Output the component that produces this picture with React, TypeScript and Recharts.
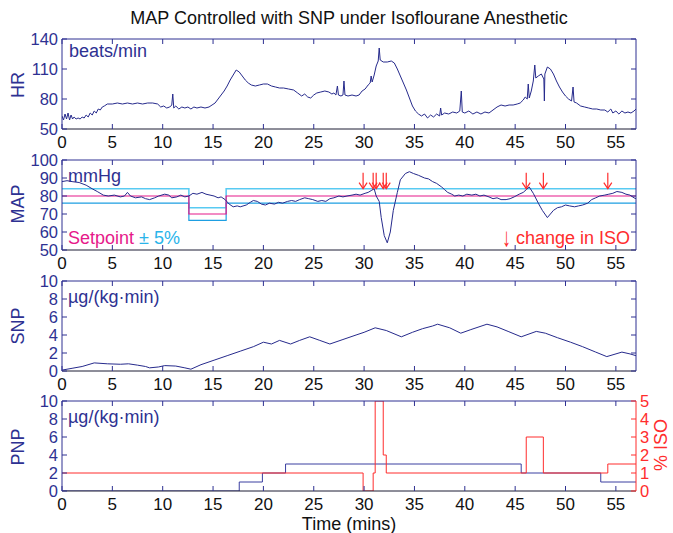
import React from 'react';
import { ComposedChart, Line, Scatter, XAxis, YAxis } from 'recharts';

// ---- data (time in minutes) ----
const timeTicks = [0, 5, 10, 15, 20, 25, 30, 35, 40, 45, 50, 55];
const hrTicks = [50, 80, 110, 140];
const mapTicks = [50, 60, 70, 80, 90, 100];
const doseTicks = [0, 2, 4, 6, 8, 10];
const isoTicks = [0, 1, 2, 3, 4, 5];

const hrTime = [
  0, 0.15, 0.3, 0.45, 0.6, 0.75, 0.9, 1.05, 1.2, 1.4,
  1.6, 1.8, 2.0, 2.2, 2.4, 2.6, 2.8, 3.0, 3.2, 3.4,
  3.6, 3.8, 4.0, 4.2, 4.5, 5.0, 5.5, 6.0, 6.5, 7.0,
  7.5, 8.0, 8.5, 9.0, 9.5, 9.8, 10.1, 10.4, 10.7, 10.9,
  11.0, 11.1, 11.3, 11.6, 11.9, 12.2, 12.5, 12.8, 13.1, 13.4,
  13.8, 14.2, 14.6, 14.9, 15.2, 15.5, 15.8, 16.1, 16.4, 16.7,
  17.0, 17.3, 17.6, 17.9, 18.2, 18.5, 18.8, 19.2, 19.6, 20.0,
  20.4, 20.8, 21.2, 21.6, 22.0, 22.5, 23.0, 23.4, 23.8, 24.1,
  24.4, 24.7, 25.0, 25.3, 25.7, 26.1, 26.5, 26.8, 27.0, 27.2,
  27.35, 27.45, 27.7, 27.9, 28.0, 28.1, 28.4, 28.8, 29.2, 29.5,
  29.8, 30.1, 30.4, 30.6, 30.7, 30.8, 31.0, 31.2, 31.4, 31.5,
  31.6, 31.9, 32.3, 32.7, 33.0, 33.3, 33.6, 33.9, 34.2, 34.5,
  34.8, 35.1, 35.4, 35.7, 36.0, 36.3, 36.6, 36.9, 37.2, 37.5,
  37.6, 37.7, 38.0, 38.4, 38.8, 39.2, 39.5, 39.65, 39.75, 40.0,
  40.4, 40.8, 41.2, 41.6, 42.0, 42.4, 42.8, 43.2, 43.6, 44.0,
  44.4, 44.8, 45.2, 45.5, 45.8, 46.0, 46.2, 46.3, 46.4, 46.6,
  46.8, 46.95, 47.05, 47.3, 47.6, 47.85, 47.9, 47.95, 48.2, 48.5,
  48.8, 49.1, 49.4, 49.7, 50.0, 50.3, 50.6, 50.75, 50.85, 51.1,
  51.5, 51.9, 52.3, 52.7, 53.1, 53.5, 53.9, 54.2, 54.5, 54.7,
  55.0, 55.3, 55.6, 55.9, 56.2, 56.5, 56.8, 57.0,
];
const hrBpm = [
  63, 59, 65, 60, 66, 59, 64, 60, 62, 60,
  61, 60, 62, 61, 64, 62, 66, 64, 68, 66,
  70, 69, 72, 73, 75, 75, 76, 75, 76, 75,
  76, 75, 76, 76, 75, 72, 73, 71, 72, 74,
  85, 71, 73, 70, 72, 71, 72, 70, 72, 71,
  72, 71, 72, 74, 76, 80, 84, 88, 93, 99,
  104, 109, 107, 103, 99, 96, 94, 93, 94, 95,
  95, 93, 92, 91, 91, 90, 89, 86, 83, 85,
  82, 81, 84, 86, 87, 88, 87, 85, 86, 84,
  93, 84, 83, 84, 98, 84, 83, 84, 83, 84,
  88, 90, 94, 96, 103, 97, 104, 113, 118, 131,
  119, 117, 117, 118, 116, 110, 103, 96, 89, 81,
  73, 68, 65, 63, 65, 61, 64, 62, 65, 63,
  71, 64, 66, 65, 67, 66, 68, 88, 67, 66,
  68, 65, 67, 65, 67, 66, 69, 72, 74, 73,
  74, 74, 75, 76, 79, 82, 80, 95, 81, 88,
  98, 114, 101, 103, 105, 100, 78, 105, 112, 110,
  105, 98, 92, 87, 83, 80, 78, 92, 77, 76,
  73, 72, 71, 70, 70, 69, 69, 67, 70, 66,
  68, 65, 68, 66, 67, 66, 68, 70,
];

const mapTime = [
  0, 0.5, 1.0, 1.7, 2.4, 3.0, 3.5, 4.1, 4.6, 5.2,
  5.8, 6.2, 6.5, 6.8, 7.3, 7.9, 8.3, 8.7, 9.2, 9.6,
  10.2, 10.6, 10.9, 11.4, 11.8, 12.2, 12.6, 13.0, 13.4, 13.9,
  14.3, 14.7, 15.1, 15.5, 15.8, 16.2, 16.6, 17.0, 17.4, 17.7,
  18.3, 18.7, 19.0, 19.4, 19.8, 20.2, 20.6, 21.1, 21.5, 21.9,
  22.4, 22.8, 23.2, 23.6, 24.1, 24.5, 24.9, 25.4, 25.8, 26.2,
  26.6, 27.0, 27.5, 27.9, 28.3, 28.8, 29.2, 29.6, 30.1, 30.4,
  30.7, 31.0, 31.2, 31.5, 31.7, 32.0, 32.3, 32.6, 32.9, 33.3,
  33.6, 34.1, 34.5, 34.9, 35.4, 36.0, 36.4, 36.8, 37.2, 37.7,
  38.0, 38.3, 38.7, 39.0, 39.4, 39.8, 40.2, 40.7, 41.1, 41.5,
  41.9, 42.4, 42.8, 43.2, 43.6, 44.1, 44.5, 44.9, 45.4, 45.8,
  46.1, 46.4, 46.8, 47.3, 47.7, 48.2, 48.5, 48.8, 49.2, 49.6,
  50.0, 50.4, 50.9, 51.3, 51.7, 52.2, 52.6, 53.0, 53.4, 53.9,
  54.3, 54.7, 55.1, 55.6, 56.0, 56.4, 56.8, 57.0,
];
const mapMmHg = [
  88, 88.5, 88, 87.5, 86, 84, 82.5, 80.5, 80, 80.5,
  79.5, 80, 82, 80, 79, 79.5, 78.5, 78, 79, 80,
  81, 80.5, 79, 79.5, 80.5, 79.5, 80, 81.5, 81, 82,
  81, 80.5, 80, 79, 79.5, 78, 75.5, 74, 74.5, 74,
  75, 76.5, 77.5, 77, 75.5, 75, 76, 75.5, 76.5, 76,
  77, 77.5, 77, 78, 79, 78.5, 78, 77, 77.5, 77,
  78.5, 79, 80, 79.5, 80, 80.5, 81, 80.5, 81.5, 82,
  83, 84, 80, 77, 68, 58, 54, 60, 72, 82,
  89, 92.5, 93.5, 92.5, 91.5, 90, 89.5, 88, 87, 85,
  83.5, 82, 81, 80, 80.5, 80, 81, 80.5, 81, 80,
  80.5, 79.5, 78.5, 79, 78, 78, 78.5, 79.5, 81, 82,
  83.5, 85, 81.5, 76, 72, 68, 70, 72, 73.5, 74,
  75, 74.5, 74, 74.5, 75, 76, 78, 79, 80, 80.5,
  81, 81.5, 82.5, 82, 81, 80.5, 79, 78.5,
];

// setpoint and its +/- 5% band
const setpointTime = [0, 12.6, 16.3, 57];
const setpointMmHg = [80, 70, 80, 80];
const bandUpper = [84, 73.5, 84, 84];
const bandLower = [76, 66.5, 76, 76];

const snpTime = [
  0, 1, 2, 3.2, 4.5, 5.8, 6.6, 7.5, 8.3, 8.7,
  9.6, 10.2, 11.3, 12.2, 12.8, 13.8, 15.1, 16.4, 17.7, 19.0,
  20.0, 20.8, 21.6, 22.7, 23.6, 24.6, 25.6, 26.6, 27.9, 29.2,
  30.0, 31.1, 32.2, 33.7, 34.8, 35.8, 36.8, 37.3, 38.5, 39.6,
  40.6, 42.2, 43.2, 44.3, 45.6, 47.1, 48.0, 49.2, 50.5, 51.7,
  53.0, 54.1, 55.6, 56.4, 57,
];
const snpRate = [
  0.1, 0.3, 0.5, 0.9, 0.8, 0.75, 0.8, 0.65, 0.5, 0.35,
  0.45, 0.6, 0.55, 0.35, 0.2, 0.7, 1.2, 1.7, 2.2, 2.7,
  3.2, 3.0, 3.4, 3.0, 3.4, 3.8, 3.4, 3.0, 3.5, 4.0,
  4.3, 4.8, 4.5, 3.8, 4.3, 4.7, 5.0, 5.2, 4.8, 4.2,
  4.6, 5.2, 4.9, 4.4, 3.8, 4.4, 4.2, 3.7, 3.2, 2.7,
  2.1, 1.6, 2.1, 1.9, 1.7,
];

const pnpTime = [0, 17.6, 19.9, 22.2, 45.6, 53.5, 57];
const pnpRate = [0, 1, 2, 3, 2, 1, 1];

const isoTime = [0, 29.9, 30.9, 31.1, 31.9, 32.2, 46.1, 47.8, 54.2, 57];
const isoPct = [1, 0, 1, 5, 2, 1, 3, 1, 1.5, 1.5];

const isoChangeTime = [29.9, 30.9, 31.2, 31.9, 32.2, 46.1, 47.8, 54.2];

// ---- styling ----
const FONT = '"Liberation Sans", Arial, Helvetica, sans-serif';
const NAVY = '#2e3192';
const TRACE = '#262a8c';
const RED = '#ff2d2d';
const MAGENTA = '#e6198a';
const CYAN_HI = '#58caf2';
const CYAN_LO = '#1e9fe2';
const ARROW_LEVEL = 88.5;

const pairs = (xs: number[], ys: number[]) => xs.map((t, i) => ({ t, v: ys[i] }));
const hrData = pairs(hrTime, hrBpm);
const mapData = pairs(mapTime, mapMmHg);
const spData = pairs(setpointTime, setpointMmHg);
const upData = pairs(setpointTime, bandUpper);
const loData = pairs(setpointTime, bandLower);
const snpData = pairs(snpTime, snpRate);
const pnpData = pairs(pnpTime, pnpRate);
const isoData = pairs(isoTime, isoPct);
const arrowData = isoChangeTime.map((t) => ({ t, v: ARROW_LEVEL }));

// ticks point inward, like the original
const bottomTick = (p: any) => (
  <g>
    <line x1={p.x} y1={p.y} x2={p.x} y2={p.y - 5} stroke={NAVY} />
    <text x={p.x} y={p.y + 19} textAnchor="middle" fontSize={17} fontFamily={FONT} fill="#111">
      {p.payload.value}
    </text>
  </g>
);
const topTick = (p: any) => <line x1={p.x} y1={p.y} x2={p.x} y2={p.y + 5} stroke={NAVY} />;
const leftTick = (color: string) => (p: any) => (
  <g>
    <line x1={p.x} y1={p.y} x2={p.x + 5} y2={p.y} stroke={color} />
    <text x={p.x - 4} y={p.y + 6} textAnchor="end" fontSize={16.5} fontFamily={FONT} fill={color}>
      {p.payload.value}
    </text>
  </g>
);
const rightMark = (color: string) => (p: any) => (
  <line x1={p.x} y1={p.y} x2={p.x - 5} y2={p.y} stroke={color} />
);
const rightTick = (color: string) => (p: any) => (
  <g>
    <line x1={p.x} y1={p.y} x2={p.x - 5} y2={p.y} stroke={color} />
    <text x={p.x + 4} y={p.y + 6} textAnchor="start" fontSize={16.5} fontFamily={FONT} fill={color}>
      {p.payload.value}
    </text>
  </g>
);

const isoArrow = (p: any) => (
  <g>
    <line x1={p.cx} y1={p.cy - 8} x2={p.cx} y2={p.cy + 8} stroke={RED} strokeWidth={1.2} />
    <polyline
      points={`${p.cx - 4},${p.cy + 2} ${p.cx},${p.cy + 8} ${p.cx + 4},${p.cy + 2}`}
      fill="none"
      stroke={RED}
      strokeWidth={1.2}
    />
  </g>
);

const W = 673;
const H = 130;
// plot box: x 62..636, y 10..100 inside each 130px chart
const margin = { top: 0, right: 7, bottom: 0, left: 22 };

const frame = (yDomain: number[], yTicks: number[], rightColor = NAVY, rightLabels = false, rightDomain?: number[], rightTicks?: number[]) => [
  <XAxis
    key="xb"
    dataKey="t"
    type="number"
    domain={[0, 57]}
    ticks={timeTicks}
    interval={0}
    height={30}
    tickSize={0}
    tickMargin={0}
    tickLine={false}
    tick={bottomTick}
    axisLine={{ stroke: '#1c1c34' }}
    allowDataOverflow
  />,
  <XAxis
    key="xt"
    xAxisId="top"
    orientation="top"
    dataKey="t"
    type="number"
    domain={[0, 57]}
    ticks={timeTicks}
    interval={0}
    height={10}
    tickSize={0}
    tickMargin={0}
    tickLine={false}
    tick={topTick}
    axisLine={{ stroke: NAVY }}
    allowDataOverflow
  />,
  <YAxis
    key="yl"
    type="number"
    domain={yDomain}
    ticks={yTicks}
    interval={0}
    width={40}
    tickSize={0}
    tickMargin={0}
    tickLine={false}
    tick={leftTick(NAVY)}
    axisLine={{ stroke: NAVY }}
    allowDataOverflow
  />,
  <YAxis
    key="yr"
    yAxisId="right"
    orientation="right"
    type="number"
    domain={rightDomain || yDomain}
    ticks={rightTicks || yTicks}
    interval={0}
    width={30}
    tickSize={0}
    tickMargin={0}
    tickLine={false}
    tick={rightLabels ? rightTick(rightColor) : rightMark(rightColor)}
    axisLine={{ stroke: rightColor }}
    allowDataOverflow
  />,
];

const Txt = ({ x, y, size = 18, color = NAVY, align = 'left', rotate = 0, children }: any) => {
  const tx = align === 'left' ? '0%' : align === 'center' ? '-50%' : '-100%';
  return (
    <div
      style={{
        position: 'absolute',
        left: x,
        top: y,
        transform: `translate(${tx}, -50%) rotate(${rotate}deg)`,
        fontSize: size,
        color,
        whiteSpace: 'nowrap',
        lineHeight: 1,
        fontFamily: FONT,
        zIndex: 2,
      }}
    >
      {children}
    </div>
  );
};

const Panel = ({ top, children }: any) => (
  <div style={{ position: 'absolute', left: 0, top: top - 10 }}>{children}</div>
);

export default function App() {
  return (
    <div style={{ position: 'relative', width: W, height: 533, background: '#fff', overflow: 'hidden' }}>
      <style>{'body{margin:0}'}</style>

      <Txt x={349} y={18} color="#111" align="center">MAP Controlled with SNP under Isoflourane Anesthetic</Txt>

      {/* HR */}
      <Panel top={39}>
        <ComposedChart width={W} height={H} margin={margin}>
          {frame([50, 140], hrTicks)}
          <Line data={hrData} dataKey="v" stroke={TRACE} strokeWidth={1} dot={false} activeDot={false} isAnimationActive={false} />
        </ComposedChart>
      </Panel>
      <Txt x={18} y={85} align="center" rotate={-90}>HR</Txt>
      <Txt x={69} y={51}>beats/min</Txt>

      {/* MAP */}
      <Panel top={160}>
        <ComposedChart width={W} height={H} margin={margin}>
          {frame([50, 100], mapTicks)}
          <Line data={upData} dataKey="v" type="stepAfter" stroke={CYAN_HI} strokeWidth={1.5} dot={false} activeDot={false} isAnimationActive={false} />
          <Line data={loData} dataKey="v" type="stepAfter" stroke={CYAN_LO} strokeWidth={1.2} dot={false} activeDot={false} isAnimationActive={false} />
          <Line data={spData} dataKey="v" type="stepAfter" stroke={MAGENTA} strokeWidth={1.2} dot={false} activeDot={false} isAnimationActive={false} />
          <Line data={mapData} dataKey="v" stroke={TRACE} strokeWidth={1} dot={false} activeDot={false} isAnimationActive={false} />
          <Scatter data={arrowData} dataKey="v" shape={isoArrow} isAnimationActive={false} />
        </ComposedChart>
      </Panel>
      <Txt x={18} y={204} align="center" rotate={-90}>MAP</Txt>
      <Txt x={68} y={176}>mmHg</Txt>
      <Txt x={68} y={238}>
        <span style={{ color: MAGENTA }}>Setpoint</span>
        <span style={{ color: '#2ab4ea' }}> ± 5%</span>
      </Txt>
      <Txt x={630} y={238} align="right" color={RED}>
        <span style={{ display: 'inline-block', transform: 'scale(0.95, 1.45)', transformOrigin: '50% 60%' }}>↓</span> change in ISO
      </Txt>

      {/* SNP */}
      <Panel top={281}>
        <ComposedChart width={W} height={H} margin={margin}>
          {frame([0, 10], doseTicks)}
          <Line data={snpData} dataKey="v" stroke={TRACE} strokeWidth={1} dot={false} activeDot={false} isAnimationActive={false} />
        </ComposedChart>
      </Panel>
      <Txt x={18} y={326} align="center" rotate={-90}>SNP</Txt>
      <Txt x={68} y={297}>µg/(kg·min)</Txt>

      {/* PNP + ISO */}
      <Panel top={401}>
        <ComposedChart width={W} height={H} margin={margin}>
          {frame([0, 10], doseTicks, RED, true, [0, 5], isoTicks)}
          <Line data={pnpData} dataKey="v" type="stepAfter" stroke="#3a3ea0" strokeWidth={1} dot={false} activeDot={false} isAnimationActive={false} />
          <Line data={isoData} yAxisId="right" dataKey="v" type="stepAfter" stroke={RED} strokeWidth={1} dot={false} activeDot={false} isAnimationActive={false} />
        </ComposedChart>
      </Panel>
      <Txt x={18} y={447} align="center" rotate={-90}>PNP</Txt>
      <Txt x={68} y={417}>µg/(kg·min)</Txt>
      <Txt x={661} y={445} align="center" rotate={-90} color={RED}>% ISO</Txt>
      <Txt x={349} y={524} align="center" color="#111">Time (mins)</Txt>
    </div>
  );
}
